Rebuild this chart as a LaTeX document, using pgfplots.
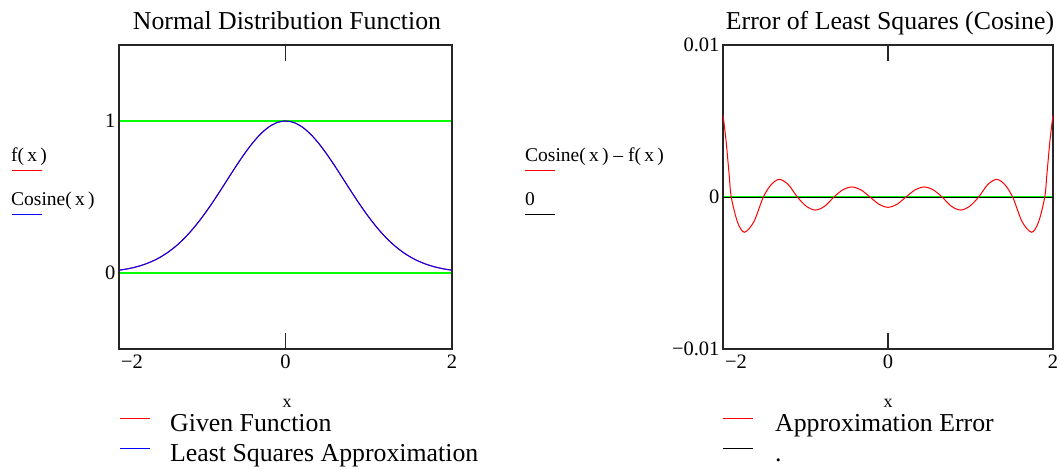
\documentclass[border=0pt]{standalone}
\usepackage{fontspec}
\setmainfont{Liberation Serif}
\usepackage{pgfplots}
\usepackage{pgfplotstable}
\pgfplotsset{compat=1.18}
\definecolor{mgreen}{RGB}{0,255,0}
\definecolor{mred}{RGB}{255,0,0}
\definecolor{mblue}{RGB}{0,0,255}
\definecolor{dgreen}{RGB}{20,90,20}

\begin{document}
% normal distribution f(x) and its cosine approximation
\pgfplotstableread{
x f
-2.0 0.01832
-1.9 0.02705
-1.8 0.03916
-1.7 0.05558
-1.6 0.07730
-1.5 0.10540
-1.4 0.14086
-1.3 0.18452
-1.2 0.23693
-1.1 0.29820
-1.0 0.36788
-0.9 0.44486
-0.8 0.52729
-0.7 0.61263
-0.6 0.69768
-0.5 0.77880
-0.4 0.85214
-0.3 0.91393
-0.2 0.96079
-0.1 0.99005
0.0 1.00000
0.1 0.99005
0.2 0.96079
0.3 0.91393
0.4 0.85214
0.5 0.77880
0.6 0.69768
0.7 0.61263
0.8 0.52729
0.9 0.44486
1.0 0.36788
1.1 0.29820
1.2 0.23693
1.3 0.18452
1.4 0.14086
1.5 0.10540
1.6 0.07730
1.7 0.05558
1.8 0.03916
1.9 0.02705
2.0 0.01832
}\normaldata
% approximation error Cosine(x) - f(x)
\pgfplotstableread{
x e
-2.0 0.0054
-1.964 0.00375
-1.927 0.00156
-1.9 0
-1.825 -0.00164
-1.742 -0.00232
-1.627 -0.00164
-1.511 0
-1.415 0.00082
-1.318 0.00116
-1.209 0.00082
-1.099 0
-0.99 -0.00061
-0.881 -0.00086
-0.768 -0.00061
-0.655 0
-0.548 0.00047
-0.44 0.00066
-0.329 0.00047
-0.218 0
-0.109 -0.00048
0.0 -0.00068
0.109 -0.00048
0.218 0
0.329 0.00047
0.44 0.00066
0.548 0.00047
0.655 0
0.768 -0.00061
0.881 -0.00086
0.99 -0.00061
1.099 0
1.209 0.00082
1.318 0.00116
1.415 0.00082
1.511 0
1.627 -0.00164
1.742 -0.00232
1.825 -0.00164
1.9 0
1.927 0.00156
1.964 0.00375
2.0 0.0054
}\errdata

\begin{tikzpicture}[x=1pt,y=1pt]
\useasboundingbox (0,0) rectangle (1060,470);
\pgfplotsset{mc/.style={
  anchor=south west, scale only axis,
  xmin=-2, xmax=2, xtick={-2,0,2},
  xticklabels={\makebox[0pt][l]{\hspace{2pt}−2},0,2},
  axis line style={line width=1.3pt, black!85},
  ymajorgrids, grid style={mgreen, line width=2.6pt},
  tick align=inside, major tick length=16pt,
  xtick style={black!85, line width=1.3pt},
  ytick style={draw=none},
  tick label style={font=\fontsize{20.5}{24}\selectfont},
  xticklabel style={yshift=-2pt},
  scaled y ticks=false,
  /pgf/number format/assume math mode=true,
}}
\begin{axis}[mc, at={(119pt,121pt)}, width=333pt, height=304pt,
  ymin=-0.5, ymax=1.5, ytick={0,1}, yticklabels={0,1}]
\addplot[mred, line width=1pt, smooth] table[x=x,y=f]{\normaldata};
\addplot[mblue, line width=1pt, smooth] table[x=x,y=f]{\normaldata};
\end{axis}
\begin{axis}[mc, at={(723pt,121pt)}, width=330pt, height=304pt,
  ymin=-0.01, ymax=0.01, ytick={-0.01,0,0.01}, yticklabels={−0.01,0,0.01},
  x axis line style={dgreen}]
\addplot[black, line width=0.8pt] coordinates {(-2,0) (2,0)};
\addplot[mred, line width=1pt, smooth] table[x=x,y=e]{\errdata};
\end{axis}

% titles
\node[anchor=base, font=\fontsize{25.8}{30}\selectfont] at (287,440) {Normal Distribution Function};
\node[anchor=base, font=\fontsize{25.8}{30}\selectfont] at (890,440) {Error of Least Squares (Cosine)};
% x labels
\node[anchor=base, font=\fontsize{18}{22}\selectfont] at (287,62) {x};
\node[anchor=base, font=\fontsize{18}{22}\selectfont] at (888,62) {x};
% y labels (left)
\node[anchor=base west, inner sep=0pt, font=\fontsize{19.5}{23}\selectfont] at (11,308) {f(\,x\,)};
\draw[mred, line width=1pt] (12,299) -- (42,299);
\node[anchor=base west, inner sep=0pt, font=\fontsize{19.5}{23}\selectfont] at (11,264) {Cosine(\,x\,)};
\draw[mblue, line width=1pt] (12,255) -- (42,255);
% y labels (right)
\node[anchor=base west, inner sep=0pt, font=\fontsize{19.5}{23}\selectfont] at (525,308) {Cosine(\,x\,) – f(\,x\,)};
\draw[mred, line width=1pt] (525,299) -- (555,299);
\node[anchor=base west, inner sep=0pt, font=\fontsize{19.5}{23}\selectfont] at (525,264) {0};
\draw[black, line width=1pt] (525,255) -- (555,255);
% legends
\draw[mred, line width=1pt] (120,51) -- (150,51);
\node[anchor=base west, inner sep=0pt, font=\fontsize{25.8}{30}\selectfont] at (170,38) {Given Function};
\draw[mblue, line width=1pt] (120,21) -- (150,21);
\node[anchor=base west, inner sep=0pt, font=\fontsize{25.8}{30}\selectfont] at (170,8) {Least Squares Approximation};
\draw[mred, line width=1pt] (723,51) -- (753,51);
\node[anchor=base west, inner sep=0pt, font=\fontsize{25.8}{30}\selectfont] at (775,38) {Approximation Error};
\draw[black, line width=1pt] (723,21) -- (753,21);
\node[anchor=base west, inner sep=0pt, font=\fontsize{25.8}{30}\selectfont] at (775,8) {.};
\end{tikzpicture}
\end{document}
